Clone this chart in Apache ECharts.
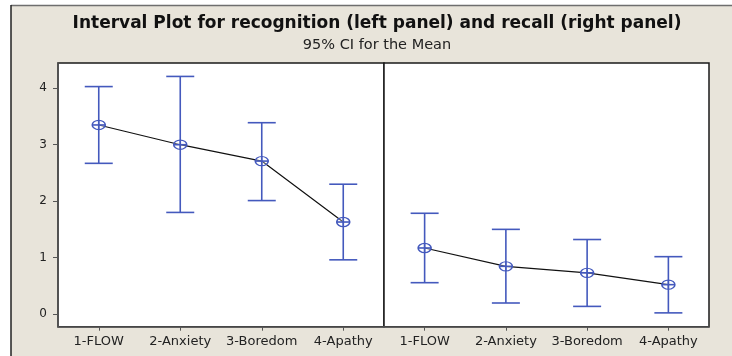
<!DOCTYPE html>
<html>
<head>
<meta charset="utf-8">
<script src="https://cdn.jsdelivr.net/npm/echarts@6/dist/echarts.min.js"></script>
<style>html,body{margin:0;padding:0;background:#fff;}#c{width:732px;height:356px;}</style>
</head>
<body>
<div id="c"></div>
<script>
var categories = ['1-FLOW', '2-Anxiety', '3-Boredom', '4-Apathy'];
var recogMean  = [3.35, 3.00, 2.71, 1.63];
var recogLower = [2.67, 1.80, 2.01, 0.96];
var recogUpper = [4.03, 4.21, 3.39, 2.30];
var recallMean  = [1.17, 0.845, 0.73, 0.52];
var recallLower = [0.555, 0.195, 0.135, 0.02];
var recallUpper = [1.785, 1.50, 1.32, 1.016];
var yTicks = [0, 1, 2, 3, 4];
var titleText = 'Interval Plot for recognition (left panel) and recall (right panel)';
var subtitleText = '95% CI for the Mean';

var BLUE = '#4459bd';
var FONT = 'DejaVu Sans';

function intervalData(lo, mean, hi) {
  return categories.map(function (c, i) { return [i, lo[i], mean[i], hi[i]]; });
}

function renderInterval(params, api) {
  var i = api.value(0);
  var pLo = api.coord([i, api.value(1)]);
  var pMean = api.coord([i, api.value(2)]);
  var pHi = api.coord([i, api.value(3)]);
  var x = pMean[0];
  var cap = 14, rx = 6.5, ry = 4.6;
  var ls = { stroke: BLUE, lineWidth: 1.6, fill: null };
  return {
    type: 'group',
    children: [
      { type: 'line', shape: { x1: x, y1: pHi[1], x2: x, y2: pLo[1] }, style: ls },
      { type: 'line', shape: { x1: x - cap, y1: pHi[1], x2: x + cap, y2: pHi[1] }, style: ls },
      { type: 'line', shape: { x1: x - cap, y1: pLo[1], x2: x + cap, y2: pLo[1] }, style: ls },
      { type: 'circle', x: x, y: pMean[1], scaleY: ry / rx, shape: { cx: 0, cy: 0, r: rx }, style: { stroke: BLUE, lineWidth: 1.6, fill: 'rgba(255,255,255,0.3)' }, z2: 5 },
      { type: 'line', shape: { x1: x - rx, y1: pMean[1], x2: x + rx, y2: pMean[1] }, style: ls, z2: 6 },
      { type: 'line', shape: { x1: x, y1: pMean[1] - ry, x2: x, y2: pMean[1] + ry }, style: ls, z2: 6 }
    ]
  };
}

var yMin = -0.225, yMax = 4.448;

function xAxisFor(gi) {
  return {
    type: 'category', gridIndex: gi, data: categories, boundaryGap: true,
    axisLine: { show: true, onZero: false, lineStyle: { color: '#555', width: 1.5 } },
    axisTick: { show: true, alignWithLabel: true, length: 4, lineStyle: { color: '#555' } },
    axisLabel: { color: '#222', fontFamily: FONT, fontSize: 13, margin: 8, interval: 0 },
    splitLine: { show: false }
  };
}

var chart = echarts.init(document.getElementById('c'), null, { renderer: 'canvas' });
chart.setOption({
  animation: false,
  backgroundColor: '#ffffff',
  graphic: [
    { type: 'rect', shape: { x: 11, y: 5, width: 721, height: 351 }, style: { fill: '#e8e4da' }, z: -10, silent: true },
    { type: 'line', shape: { x1: 11, y1: 5.5, x2: 732, y2: 5.5 }, style: { stroke: '#6e6e6e', lineWidth: 1.5 }, z: -9 },
    { type: 'line', shape: { x1: 11, y1: 5, x2: 11, y2: 356 }, style: { stroke: '#222', lineWidth: 1.5 }, z: -9 },
    { type: 'text', x: 377, y: 24, style: { text: titleText, font: 'bold 17px "DejaVu Sans"', fill: '#111', align: 'center', verticalAlign: 'middle' } },
    { type: 'text', x: 377, y: 45, style: { text: subtitleText, font: '14.5px "DejaVu Sans"', fill: '#222', align: 'center', verticalAlign: 'middle' } }
  ],
  grid: [
    { left: 58, top: 63, width: 326, height: 263.7, show: true, backgroundColor: '#fff', borderColor: '#1a1a1a', borderWidth: 1.5 },
    { left: 384, top: 63, width: 325, height: 263.7, show: true, backgroundColor: '#fff', borderColor: '#1a1a1a', borderWidth: 1.5 }
  ],
  xAxis: [xAxisFor(0), xAxisFor(1)],
  yAxis: [
    {
      type: 'value', gridIndex: 0, min: yMin, max: yMax,
      axisLine: { show: true, onZero: false, lineStyle: { color: '#555', width: 1.5 } },
      axisTick: { show: true, length: 5, customValues: yTicks, lineStyle: { color: '#555' } },
      axisLabel: { color: '#222', fontFamily: FONT, fontSize: 12, margin: 11, customValues: yTicks },
      splitLine: { show: false }
    },
    {
      type: 'value', gridIndex: 1, min: yMin, max: yMax,
      axisLine: { show: false }, axisTick: { show: false }, axisLabel: { show: false }, splitLine: { show: false }
    }
  ],
  series: [
    { type: 'line', xAxisIndex: 0, yAxisIndex: 0, data: recogMean, symbol: 'none', lineStyle: { color: '#111', width: 1.2 }, z: 2 },
    { type: 'line', xAxisIndex: 1, yAxisIndex: 1, data: recallMean, symbol: 'none', lineStyle: { color: '#111', width: 1.2 }, z: 2 },
    { type: 'custom', xAxisIndex: 0, yAxisIndex: 0, data: intervalData(recogLower, recogMean, recogUpper), renderItem: renderInterval, z: 3 },
    { type: 'custom', xAxisIndex: 1, yAxisIndex: 1, data: intervalData(recallLower, recallMean, recallUpper), renderItem: renderInterval, z: 3 }
  ]
});
</script>
</body>
</html>
